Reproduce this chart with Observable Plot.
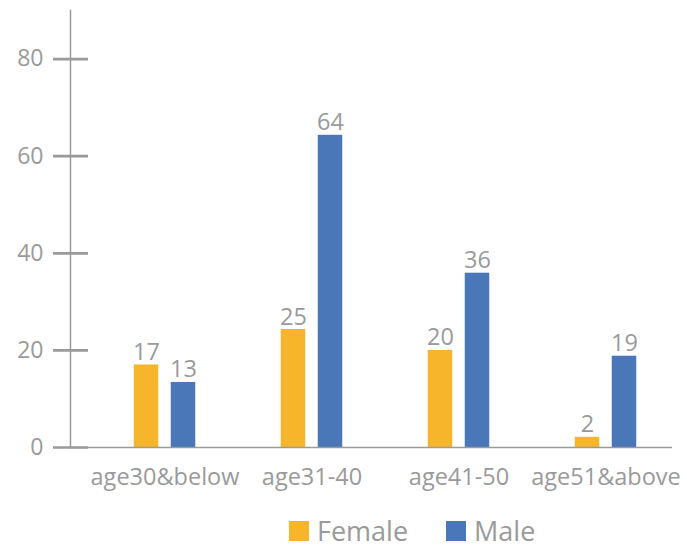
<!DOCTYPE html>
<html>
<head>
<meta charset="utf-8">
<script src="https://cdn.jsdelivr.net/npm/d3@7"></script>
<script src="https://cdn.jsdelivr.net/npm/@observablehq/plot@0.6"></script>
<style>
  body { margin: 0; background: #fff; font-family: "Open Sans", sans-serif; }
  #wrap { position: relative; width: 687px; height: 549px; }
  #legend { position: absolute; left: 289px; top: 512px; display: flex; align-items: center; color: #9a9a9a; font-size: 27px; }
  .sw { width: 20px; height: 20px; display: inline-block; margin-right: 8px; }
  .item { display: flex; align-items: center; margin-right: 38px; }
</style>
</head>
<body>
<div id="wrap">
  <div id="chart"></div>
  <div id="legend"></div>
</div>
<script>
const categories = ["age30&below", "age31-40", "age41-50", "age51&above"];
const femaleValues = [17, 24.3, 20, 2.1];
const maleValues = [13.4, 64.3, 35.9, 18.8];
const femaleLabels = ["17", "25", "20", "2"];
const maleLabels = ["13", "64", "36", "19"];
const yTicks = [0, 20, 40, 60, 80];
const seriesNames = ["Female", "Male"];
const seriesColors = ["#F7B52B", "#4A77B8"];

const rows = categories.map((c, i) => ({
  cat: c, female: femaleValues[i], male: maleValues[i],
  fl: femaleLabels[i], ml: maleLabels[i]
}));

const gray = "#9a9a9a";
const chart = Plot.plot({
  width: 687,
  height: 500,
  marginLeft: 70,
  marginRight: 15,
  marginTop: 10,
  marginBottom: 53,
  style: { fontFamily: "Open Sans, sans-serif", background: "#fff" },
  x: { domain: categories, range: [90, 680], padding: 0 },
  y: { domain: [0, 90] },
  marks: [
    Plot.barY(rows, { x: "cat", y: "female", fill: seriesColors[0], insetLeft: 42.75, insetRight: 79.75 }),
    Plot.barY(rows, { x: "cat", y: "male", fill: seriesColors[1], insetLeft: 79.75, insetRight: 42.75 }),
    Plot.text(rows, { x: "cat", y: "female", text: "fl", dx: -18.5, dy: -5, lineAnchor: "bottom", fill: gray, fontSize: 23.5 }),
    Plot.text(rows, { x: "cat", y: "male", text: "ml", dx: 18.5, dy: -5, lineAnchor: "bottom", fill: gray, fontSize: 23.5 }),
    Plot.frame({ anchor: "left", stroke: gray, strokeWidth: 1.5 }),
    Plot.ruleY([0], { stroke: gray, strokeWidth: 1.5 }),
    Plot.axisY({ ticks: yTicks, tickSize: 35, dx: 18, tickPadding: 10, color: gray, strokeWidth: 2.7, fontSize: 23, label: null, tickFormat: d => String(d) }),
    Plot.axisX({ tickSize: 0, tickPadding: 21, color: gray, fontSize: 23.5, label: null })
  ]
});
document.getElementById("chart").appendChild(chart);

const legend = document.getElementById("legend");
seriesNames.forEach((n, i) => {
  const it = document.createElement("div");
  it.className = "item";
  const sw = document.createElement("span");
  sw.className = "sw";
  sw.style.background = seriesColors[i];
  const t = document.createElement("span");
  t.textContent = n;
  it.appendChild(sw); it.appendChild(t);
  legend.appendChild(it);
});
</script>
</body>
</html>
